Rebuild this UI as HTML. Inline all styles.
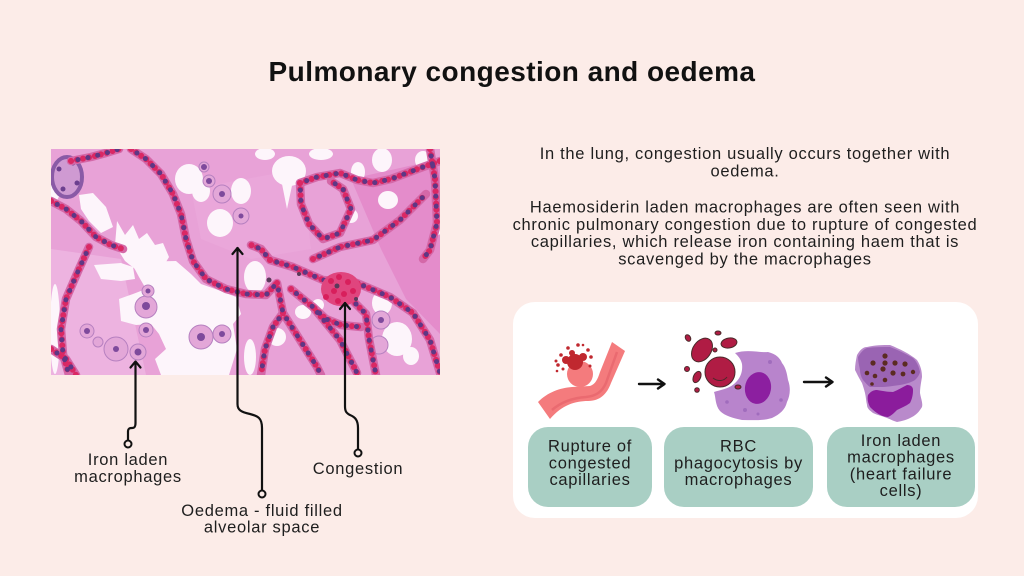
<!DOCTYPE html>
<html><head><meta charset="utf-8"><style>
html,body{margin:0;padding:0;background:#fcece8;}
svg{display:block;}
</style></head><body>
<svg width="1024" height="576" viewBox="0 0 1024 576" xmlns="http://www.w3.org/2000/svg">
<rect width="1024" height="576" fill="#fcece8"/>
<text x="512" y="81" text-anchor="middle" font-family="Liberation Sans, sans-serif" font-weight="bold" font-size="28" letter-spacing="0.45" fill="#111">Pulmonary congestion and oedema</text>

<!-- Micrograph -->
<g transform="translate(51,149)">
<clipPath id="mc"><rect width="389" height="226"/></clipPath>
<g clip-path="url(#mc)">
<rect width="389" height="226" fill="#e8a2d7"/>
<path d="M0,100 L70,110 L95,226 L0,226Z" fill="#edb3e0"/>
<path d="M300,30 L389,10 L389,185 L355,150 L330,100Z" fill="#e48ccb"/>
<path d="M140,40 L250,20 L260,100 L200,110 L150,90Z" fill="#eaa7da"/>
<!-- white spaces -->
<g fill="#fdf5fb">
<ellipse cx="4" cy="40" rx="5" ry="12"/>
<polygon points="28,46 42,44 55,58 62,78 50,84 38,72 30,60"/>
<polygon points="66,72 74,86 82,76 88,90 96,84 104,96 112,94 118,108 112,118 96,116 84,120 74,112 64,96"/>
<polygon points="43,116 70,114 82,118 84,130 70,132 50,130"/>
<polygon points="80,113 125,112 140,125 150,135 170,142 185,148 190,165 182,175 186,200 178,226 110,226 104,210 115,200 108,185 100,175 85,176 70,172 68,150 82,145 95,140 88,128"/>
<ellipse cx="4" cy="180" rx="5" ry="45"/>
<ellipse cx="138" cy="30" rx="14" ry="15"/>
<ellipse cx="150" cy="42" rx="9" ry="11"/>
<ellipse cx="190" cy="42" rx="10" ry="13"/>
<ellipse cx="169" cy="74" rx="13" ry="14"/>
<ellipse cx="238" cy="22" rx="17" ry="15"/>
<path d="M230,30 L236,60 L242,32Z"/>
<ellipse cx="270" cy="5" rx="12" ry="6"/>
<ellipse cx="307" cy="23" rx="7" ry="10"/>
<ellipse cx="331" cy="11" rx="10" ry="12"/>
<ellipse cx="372" cy="11" rx="8" ry="9"/>
<ellipse cx="337" cy="51" rx="10" ry="9"/>
<ellipse cx="300" cy="67" rx="7" ry="7"/>
<ellipse cx="385" cy="82" rx="5" ry="5"/>
<ellipse cx="204" cy="128" rx="11" ry="16"/>
<ellipse cx="331" cy="154" rx="10" ry="12"/>
<ellipse cx="346" cy="190" rx="15" ry="17"/>
<ellipse cx="226" cy="188" rx="9" ry="9"/>
<ellipse cx="252" cy="163" rx="8" ry="7"/>
<ellipse cx="267" cy="156" rx="6" ry="6"/>
<ellipse cx="360" cy="207" rx="8" ry="9"/>
<ellipse cx="199" cy="208" rx="6" ry="18"/>
<ellipse cx="214" cy="5" rx="10" ry="6"/>
</g>
<!-- pale macrophages -->
<g fill="#e3a7d8" stroke="#b680c0" stroke-width="1">
<circle cx="36" cy="182" r="7"/>
<circle cx="47" cy="193" r="5"/>
<circle cx="95" cy="158" r="11"/>
<circle cx="97" cy="142" r="6"/>
<circle cx="95" cy="181" r="7"/>
<circle cx="65" cy="200" r="12"/>
<circle cx="87" cy="203" r="8"/>
<circle cx="150" cy="188" r="12"/>
<circle cx="171" cy="185" r="9"/>
<circle cx="330" cy="171" r="9"/>
<circle cx="328" cy="196" r="9"/>
<circle cx="153" cy="18" r="5"/>
<circle cx="158" cy="32" r="6"/>
<circle cx="171" cy="45" r="9"/>
<circle cx="190" cy="67" r="8"/>
</g>
<g fill="#7e4a9c">
<circle cx="36" cy="182" r="3"/><circle cx="95" cy="157" r="4"/><circle cx="97" cy="142" r="2.5"/>
<circle cx="95" cy="181" r="3"/><circle cx="65" cy="200" r="3"/><circle cx="87" cy="203" r="3.5"/>
<circle cx="150" cy="188" r="4"/><circle cx="171" cy="185" r="3"/><circle cx="330" cy="171" r="3"/>
<circle cx="153" cy="18" r="3"/><circle cx="158" cy="32" r="3"/><circle cx="171" cy="45" r="3"/><circle cx="190" cy="67" r="2.5"/>
</g>
<!-- top-left vessel -->
<ellipse cx="16" cy="28" rx="15" ry="20" fill="#cf9ad2" stroke="#8a5aa6" stroke-width="4"/>
<g fill="#6c3f8f"><circle cx="8" cy="20" r="2.5"/><circle cx="22" cy="14" r="2.5"/><circle cx="26" cy="34" r="2.5"/><circle cx="12" cy="40" r="2.5"/></g>
<!-- walls -->
<defs>
<g id="walls">
<polyline points="0,52 15,60 30,72 45,88 60,96 72,100"/>
<polyline points="20,12 40,8 55,4 68,0"/>
<polyline points="38,98 28,120 15,150 10,180 12,205 18,226"/>
<polyline points="80,0 95,10 110,25 122,45 130,65 135,90 142,112 155,130 175,140 195,145 215,146 225,135"/>
<polyline points="249,34 266,28 289,24 306,31 322,34 340,30 356,24 372,18 389,12"/>
<polyline points="249,34 250,55 258,75 272,90 289,84 300,60 292,40 280,32"/>
<polyline points="219,111 242,118 272,131 306,134 339,148 362,164 379,191 389,224"/>
<polyline points="226,134 232,164 249,191 266,218 270,226"/>
<polyline points="262,110 289,98 322,91 349,71 362,58 375,45"/>
<polyline points="379,0 384,30 386,74 379,101 372,110"/>
<polyline points="262,158 289,191 306,224"/>
<polyline points="0,200 15,210 25,226"/>
<polyline points="240,140 252,150 262,158 275,170 290,176 310,178"/>
<polyline points="232,164 222,178 214,200 210,226"/>
<polyline points="300,150 315,165 318,190 325,226"/>
<polyline points="219,111 210,100 200,96"/>
</g>
</defs>
<g fill="none" stroke-linecap="round" stroke-linejoin="round">
<use href="#walls" stroke="#d468a8" stroke-width="8.5"/>
<use href="#walls" stroke="#da2864" stroke-width="6" stroke-dasharray="0.1 6"/>
<use href="#walls" stroke="#5e3785" stroke-width="5" stroke-dasharray="0.1 10" stroke-dashoffset="3"/>
</g>
<!-- congestion cluster -->
<ellipse cx="290" cy="140" rx="20" ry="17" fill="#e0457e"/>
<g fill="#d81f5c">
<circle cx="280" cy="132" r="3"/><circle cx="288" cy="128" r="3"/><circle cx="297" cy="133" r="3"/>
<circle cx="283" cy="142" r="3"/><circle cx="293" cy="145" r="3"/><circle cx="302" cy="142" r="3"/>
<circle cx="287" cy="152" r="3"/><circle cx="275" cy="148" r="3"/>
</g>
<g fill="#5a3a5a"><circle cx="286" cy="137" r="2.5"/><circle cx="305" cy="150" r="2"/><circle cx="218" cy="131" r="2.5"/><circle cx="248" cy="125" r="2"/></g>
</g>
</g>

<!-- connectors -->
<g fill="none" stroke="#111" stroke-width="2.2" stroke-linecap="round" stroke-linejoin="round">
<path d="M128,440.5 V432 C128,428 130,428 132,428 C135,428 135.5,426 135.5,423 V362"/>
<path d="M130.5,367.5 L135.5,361.5 L140.5,367.5"/>
<path d="M262,490.5 V428 C262,418 258,416 250,414 C241,412 237.5,410 237.5,404 V248"/>
<path d="M232.5,254 L237.5,248 L242.5,254"/>
<path d="M358,449.5 V428 C358,420 355,417 350,415 C346,413 345,411 345,406 V303"/>
<path d="M340,309 L345,303 L350,309"/>
</g>
<g fill="#fcece8" stroke="#111" stroke-width="2">
<circle cx="128" cy="444" r="3.5"/>
<circle cx="262" cy="494" r="3.5"/>
<circle cx="358" cy="453" r="3.5"/>
</g>
<g font-family="Liberation Sans, sans-serif" font-size="16.5" letter-spacing="0.7" fill="#1e1e1e" text-anchor="middle">
<text x="128" y="465">Iron laden</text>
<text x="128" y="482">macrophages</text>
<text x="358" y="474">Congestion</text>
<text x="262" y="516">Oedema - fluid filled</text>
<text x="262" y="532.5">alveolar space</text>

<text x="745" y="159">In the lung, congestion usually occurs together with</text>
<text x="745" y="176.5">oedema.</text>
<text x="745" y="212.5">Haemosiderin laden macrophages are often seen with</text>
<text x="745" y="229.8">chronic pulmonary congestion due to rupture of congested</text>
<text x="745" y="247">capillaries, which release iron containing haem that is</text>
<text x="745" y="264.5">scavenged by the macrophages</text>
</g>

<!-- right panel -->
<rect x="513" y="302" width="465" height="216" rx="22" fill="#ffffff"/>
<g fill="#a9cfc4">
<rect x="528" y="427" width="124" height="80" rx="20"/>
<rect x="664" y="427" width="149" height="80" rx="20"/>
<rect x="827" y="427" width="148" height="80" rx="20"/>
</g>
<g font-family="Liberation Sans, sans-serif" font-size="16.5" letter-spacing="0.7" fill="#1e1e1e" text-anchor="middle">
<text x="590" y="451.7">Rupture of</text>
<text x="590" y="468.3">congested</text>
<text x="590" y="485">capillaries</text>
<text x="738.5" y="451.7">RBC</text>
<text x="738.5" y="468.3">phagocytosis by</text>
<text x="738.5" y="485">macrophages</text>
<text x="901" y="446">Iron laden</text>
<text x="901" y="462.7">macrophages</text>
<text x="901" y="479.3">(heart failure</text>
<text x="901" y="496">cells)</text>
</g>

<!-- capillary icon -->
<path d="M538,402 C548,392 560,388 572,387 L590,386 C596,384 598,378 600,372 L612,342 L625,351 L611,383 C607,394 600,401 588,401 C575,401 562,405 550,419 Z" fill="#f47b7d"/>
<circle cx="580" cy="374" r="13" fill="#f47b7d"/>
<path d="M552,410 C560,403 572,398 586,397 C596,396 602,392 606,383 L617,352" fill="none" stroke="#ea6a70" stroke-width="2.5"/>
<g fill="#c0282f">
<circle cx="575" cy="362" r="8"/>
<circle cx="566" cy="360" r="4"/><circle cx="583" cy="357" r="4"/><circle cx="572" cy="353" r="3"/>
<circle cx="558" cy="365" r="1.8"/><circle cx="561" cy="355" r="1.8"/><circle cx="568" cy="348" r="1.8"/>
<circle cx="578" cy="345" r="1.8"/><circle cx="588" cy="350" r="1.8"/><circle cx="591" cy="357" r="1.8"/>
<circle cx="556" cy="361" r="1.5"/><circle cx="590" cy="366" r="1.5"/><circle cx="563" cy="369" r="1.5"/>
<circle cx="583" cy="345" r="1.3"/><circle cx="557" cy="371" r="1.3"/>
</g>

<!-- arrows -->
<g fill="none" stroke="#111" stroke-width="2.4" stroke-linecap="round" stroke-linejoin="round">
<path d="M639,384 H664 M658,379.5 L664.5,384 L658,388.5"/>
<path d="M804,382 H832 M826,377.5 L832.5,382 L826,386.5"/>
</g>

<!-- RBC phagocytosis icon -->
<path d="M735,353 C748,349 760,353 768,352 C776,354 780,358 782,363 C786,368 787,374 788,380 C791,388 790,396 787,402 C785,410 780,414 772,418 C762,421 752,420 742,420 C733,418 725,416 720,411 C715,405 716,398 714,392 C720,390 728,389 734,384 C740,379 743,372 742,364 C741,359 738,356 735,353 Z" fill="#b884cc"/>
<g fill="#a06cbd"><circle cx="745" cy="410" r="2"/><circle cx="770" cy="362" r="2"/><circle cx="781" cy="400" r="1.8"/><circle cx="727" cy="402" r="1.8"/><circle cx="758" cy="414" r="1.5"/></g>
<ellipse cx="758" cy="388" rx="13" ry="16" transform="rotate(10 758 388)" fill="#8c1fa0"/>
<circle cx="720" cy="372" r="17" fill="#fff"/>
<g stroke="#4a2a2a" stroke-width="1" fill="#b01c44">
<circle cx="720" cy="372" r="15"/>
<ellipse cx="702" cy="350" rx="13" ry="9" transform="rotate(-55 702 350)"/>
<ellipse cx="729" cy="343" rx="8" ry="5" transform="rotate(-10 729 343)"/>
<ellipse cx="688" cy="338" rx="2.5" ry="3.5" transform="rotate(-30 688 338)"/>
<ellipse cx="718" cy="333" rx="3" ry="2"/>
<circle cx="715" cy="350" r="2"/>
<circle cx="687" cy="369" r="2.5"/>
<ellipse cx="697" cy="377" rx="3.5" ry="6" transform="rotate(25 697 377)"/>
<circle cx="697" cy="390" r="2.3"/>
<ellipse cx="738" cy="387" rx="3" ry="2"/>
</g>
<path d="M713,378 C718,382 724,381 727,377" fill="none" stroke="#4a2a2a" stroke-width="1"/>

<!-- iron laden macrophage icon -->
<path d="M857,355 C860,350 863,347 867,347 C875,345 883,345 890,345 C900,349 910,354 917,360 C921,366 922,372 922,377 C921,383 920,388 920,393 C921,399 923,403 922,407 C919,412 916,415 912,417 C907,420 902,421 897,422 C893,421 890,419 887,418 C882,416 877,415 873,413 C869,410 867,408 867,405 C866,401 866,397 865,393 C864,389 863,386 862,383 C859,378 857,374 855,370 C855,365 856,360 857,355 Z" fill="#b98acb"/>
<path d="M858,357 C861,352 864,349 867,348 C875,347 883,347 890,347 C898,350 906,354 913,358 C917,362 919,367 920,372 C919,376 917,378 915,380 C910,383 905,384 900,385 C893,386 887,387 880,387 C876,387 873,387 870,387 C867,385 865,382 863,380 C861,377 860,373 860,370 C859,365 858,361 858,357 Z" fill="#9a64b3"/>
<g fill="#5b2b22">
<circle cx="885" cy="356" r="2.6"/><circle cx="873" cy="363" r="2.6"/><circle cx="885" cy="363" r="2.6"/>
<circle cx="895" cy="363" r="2.6"/><circle cx="905" cy="364" r="2.6"/><circle cx="867" cy="373" r="2.3"/>
<circle cx="875" cy="376" r="2.3"/><circle cx="883" cy="369" r="2.6"/><circle cx="893" cy="373" r="2.6"/>
<circle cx="903" cy="374" r="2.4"/><circle cx="913" cy="372" r="2.2"/><circle cx="885" cy="380" r="2.3"/>
<circle cx="872" cy="384" r="1.8"/>
</g>
<path d="M868,395 C871,391 874,390 877,390 C883,391 888,392 893,392 C898,390 903,387 907,385 C911,385 913,387 913,390 C913,395 912,399 910,403 C906,406 901,408 897,410 C894,413 891,416 888,417 C884,417 880,415 877,413 C874,411 872,409 870,407 C868,403 867,399 868,395 Z" fill="#8b1c9c"/>
</svg>
</body></html>
